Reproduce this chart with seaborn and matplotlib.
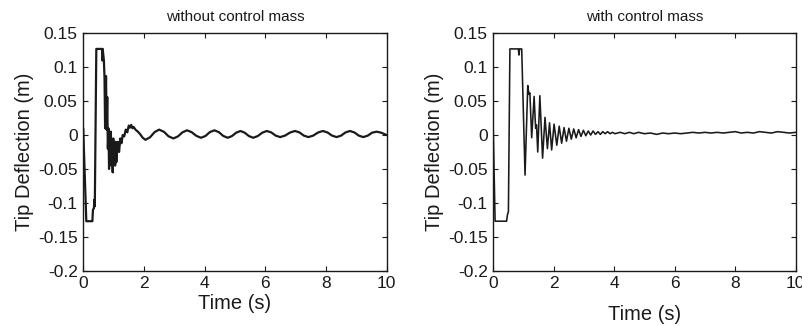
import matplotlib
matplotlib.use("Agg")
import matplotlib.pyplot as plt
import seaborn as sns
import pandas as pd
from matplotlib.ticker import FuncFormatter

# ---- data ----
t_left = [0.00, 0.02, 0.10, 0.30, 0.32, 0.35, 0.37, 0.38, 0.43, 0.62,
          0.63, 0.64, 0.68, 0.70, 0.72, 0.75, 0.77, 0.79, 0.81, 0.83,
          0.85, 0.87, 0.89, 0.91, 0.93, 0.95, 0.97, 0.99, 1.01, 1.03,
          1.05, 1.07, 1.09, 1.11, 1.14, 1.18, 1.22, 1.26, 1.30, 1.35,
          1.40, 1.45, 1.50, 1.54, 1.58, 1.62, 1.66, 1.72, 1.80, 1.88,
          1.96, 2.05, 2.20, 2.35, 2.50, 2.66, 2.81, 2.97, 3.12, 3.27,
          3.42, 3.57, 3.73, 3.88, 4.03, 4.17, 4.32, 4.47, 4.61, 4.76,
          4.90, 5.04, 5.18, 5.32, 5.46, 5.60, 5.75, 5.90, 6.05, 6.20,
          6.34, 6.49, 6.65, 6.82, 6.98, 7.13, 7.27, 7.42, 7.58, 7.74,
          7.90, 8.05, 8.20, 8.35, 8.50, 8.64, 8.79, 8.94, 9.08, 9.23,
          9.38, 9.52, 9.67, 9.82, 10.0]
y_left = [0.010, -0.020, -0.127, -0.127, -0.110, -0.108, -0.095, -0.105, 0.127, 0.127,
          0.110, 0.127, 0.110, 0.085, 0.010, 0.087, 0.008, 0.056, -0.020, 0.010,
          -0.050, 0.002, -0.030, 0.005, -0.045, -0.008, -0.055, -0.005, -0.040, -0.015,
          -0.045, -0.010, -0.040, -0.020, -0.010, -0.025, -0.005, -0.012, 0.000, -0.002,
          0.008, 0.004, 0.014, 0.011, 0.015, 0.010, 0.012, 0.008, 0.005, 0.001,
          -0.004, -0.007, -0.0033, 0.0043, 0.008, 0.0048, -0.0018, -0.005, -0.002, 0.004,
          0.007, 0.0043, -0.0012, -0.004, -0.0013, 0.0043, 0.007, 0.0043, -0.0012, -0.004,
          -0.0015, 0.0035, 0.006, 0.0035, -0.0015, -0.004, -0.0015, 0.0035, 0.006, 0.0038,
          -0.0008, -0.003, -0.0008, 0.0038, 0.006, 0.0038, -0.0008, -0.003, -0.0008, 0.0038,
          0.006, 0.0038, -0.0008, -0.003, -0.0008, 0.0038, 0.006, 0.0038, -0.0008, -0.003,
          -0.0008, 0.0035, 0.005, 0.0035, 0.000]

t_right = [0.0, 0.06, 0.44, 0.47, 0.50, 0.55, 0.83, 0.85, 0.87, 0.94,
           1.05, 1.14, 1.18, 1.21, 1.27, 1.35, 1.40, 1.43, 1.47, 1.54,
           1.63, 1.71, 1.79, 1.86, 1.93, 2.01, 2.10, 2.18, 2.26, 2.34,
           2.42, 2.50, 2.58, 2.66, 2.74, 2.82, 2.90, 2.98, 3.06, 3.14,
           3.22, 3.30, 3.38, 3.46, 3.54, 3.62, 3.70, 3.78, 3.86, 3.94,
           4.02, 4.2, 4.35, 4.5, 4.65, 4.8, 5.0, 5.2, 5.4, 5.6,
           5.8, 6.0, 6.2, 6.4, 6.6, 6.8, 7.0, 7.2, 7.4, 7.6,
           7.8, 8.0, 8.2, 8.4, 8.6, 8.8, 9.0, 9.2, 9.4, 9.6,
           9.8, 10.0]
y_right = [0.007, -0.127, -0.127, -0.117, -0.113, 0.127, 0.127, 0.118, 0.127, 0.127,
           -0.059, 0.073, 0.060, 0.062, -0.004, 0.057, 0.010, 0.015, -0.025, 0.058,
           -0.034, 0.026, -0.020, 0.018, -0.022, 0.016, -0.015, 0.013, -0.012, 0.011,
           -0.009, 0.010, -0.006, 0.009, -0.004, 0.008, -0.002, 0.007, -0.001, 0.006,
           0.000, 0.006, 0.001, 0.005, 0.001, 0.005, 0.002, 0.005, 0.002, 0.004,
           0.002, 0.004, 0.002, 0.004, 0.002, 0.004, 0.002, 0.003, 0.001, 0.003,
           0.002, 0.003, 0.002, 0.003, 0.004, 0.003, 0.004, 0.003, 0.004, 0.003,
           0.004, 0.005, 0.003, 0.004, 0.003, 0.005, 0.004, 0.003, 0.005, 0.004,
           0.003, 0.004]

titles = ["without control mass", "with control mass"]
x_ticks = [0, 2, 4, 6, 8, 10]
y_ticks = [-0.2, -0.15, -0.1, -0.05, 0, 0.05, 0.1, 0.15]
x_label = "Time (s)"
y_label = "Tip Deflection (m)"

# ---- style ----
sns.set_theme(style="ticks")
plt.rcParams["font.family"] = ["Liberation Sans", "DejaVu Sans"]
plt.rcParams["axes.unicode_minus"] = False

fig = plt.figure(figsize=(8.03, 3.26), dpi=100)
ax1 = fig.add_axes([0.1037, 0.1696, 0.3778, 0.7282])
ax2 = fig.add_axes([0.6143, 0.1696, 0.3766, 0.7282])

df_l = pd.DataFrame({"t": t_left, "y": y_left})
df_r = pd.DataFrame({"t": t_right, "y": y_right})

sns.lineplot(data=df_l, x="t", y="y", ax=ax1, color="#1a1a1a", linewidth=1.6,
             sort=False, estimator=None)
sns.lineplot(data=df_r, x="t", y="y", ax=ax2, color="#1a1a1a", linewidth=1.15,
             sort=False, estimator=None)

def fmt(v, pos):
    s = f"{v:.2f}".rstrip("0").rstrip(".")
    if s in ("-0", ""):
        s = "0"
    return s

for ax, title, lp in ((ax1, titles[0], 2), (ax2, titles[1], 10)):
    ax.set_xlim(0, 10)
    ax.set_ylim(-0.2, 0.15)
    ax.set_xticks(x_ticks)
    ax.set_yticks(y_ticks)
    ax.yaxis.set_major_formatter(FuncFormatter(fmt))
    ax.tick_params(direction="in", length=3.5, width=0.8, top=True, right=True,
                   labelsize=12.5, colors="#1a1a1a", pad=4)
    for sp in ax.spines.values():
        sp.set_visible(True)
        sp.set_color("#1a1a1a")
        sp.set_linewidth(1.0)
    ax.set_title(title, fontsize=11, pad=9, color="#1a1a1a")
    ax.set_xlabel(x_label, fontsize=14.5, labelpad=lp, color="#1a1a1a")
    ax.set_ylabel(y_label, fontsize=14.5, labelpad=3, color="#1a1a1a")
    ax.set_facecolor("white")

fig.savefig("out.png", dpi=100, facecolor="white")
